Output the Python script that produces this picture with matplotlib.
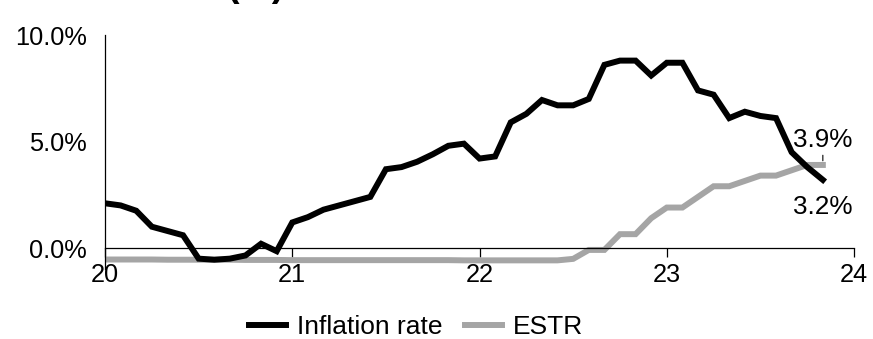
import matplotlib
matplotlib.use("Agg")
import matplotlib.pyplot as plt
from matplotlib.ticker import FuncFormatter
import numpy as np

plt.rcParams['font.family'] = ['Liberation Sans', 'DejaVu Sans']

# monthly series, Jan 2020 - Nov 2023
inflation = [
    2.1, 2.0, 1.75, 1.0, 0.8, 0.6, -0.5, -0.55, -0.5, -0.35, 0.2, -0.15,   # 2020
    1.2, 1.45, 1.8, 2.0, 2.2, 2.4, 3.7, 3.8, 4.05, 4.4, 4.8, 4.9,          # 2021
    4.2, 4.3, 5.9, 6.3, 6.95, 6.7, 6.7, 7.0, 8.6, 8.8, 8.8, 8.1,           # 2022
    8.7, 8.7, 7.4, 7.2, 6.1, 6.4, 6.2, 6.1, 4.5, 3.8, 3.2,                 # 2023
]
estr = [
    -0.54, -0.54, -0.54, -0.54, -0.55, -0.55, -0.55, -0.55, -0.55, -0.56, -0.56, -0.56,
    -0.57, -0.57, -0.57, -0.57, -0.57, -0.57, -0.57, -0.57, -0.57, -0.57, -0.57, -0.58,
    -0.58, -0.58, -0.58, -0.58, -0.58, -0.58, -0.51, -0.09, -0.09, 0.65, 0.65, 1.4,
    1.9, 1.9, 2.4, 2.9, 2.9, 3.15, 3.4, 3.4, 3.65, 3.9, 3.9,
]
start_year = 20
year_ticks = [20, 21, 22, 23, 24]

x = start_year + np.arange(len(inflation)) / 12

fig = plt.figure(figsize=(8.73, 3.39), dpi=100)
ax = fig.add_axes([0.1203, 0.2056, 0.858, 0.691])

ax.plot(x, estr, color="#A5A5A5", linewidth=4.3, solid_joinstyle="miter",
        label="ESTR", zorder=2)
ax.plot(x, inflation, color="black", linewidth=4.3, solid_joinstyle="miter",
        label="Inflation rate", zorder=3)

# ---------------- END LABELS ----------------
ax.annotate(f"{estr[-1]:.1f}%", xy=(x[-1], estr[-1]), xytext=(x[-1], 5.05),
            ha="center", va="center", fontsize=18.8,
            arrowprops=dict(arrowstyle="-", color="black", lw=0.8,
                            shrinkA=0, shrinkB=3))
ax.text(x[-1], 1.94, f"{inflation[-1]:.1f}%", ha="center", va="center",
        fontsize=18.8)

# ---------------- AXES ----------------
ax.set_xlim(20, 24)
ax.set_ylim(-1, 10)
ax.set_xticks(year_ticks)
ax.set_yticks([0, 5, 10])
ax.yaxis.set_major_formatter(FuncFormatter(lambda v, p: f"{v:.1f}%"))

ax.spines['top'].set_visible(False)
ax.spines['right'].set_visible(False)
ax.spines['bottom'].set_position(('data', 0))
ax.spines['bottom'].set_linewidth(0.9)
ax.spines['left'].set_linewidth(0.9)

ax.tick_params(axis='x', direction='out', length=6.5, width=0.9,
               labelsize=18.3, pad=4)
ax.tick_params(axis='y', length=0, labelsize=18.3, pad=13)

# ---------------- LEGEND ----------------
handles, labels = ax.get_legend_handles_labels()
fig.legend(handles[::-1], labels[::-1], loc="center",
           bbox_to_anchor=(416 / 873, 0.036), ncol=2, frameon=False,
           fontsize=19, handlelength=1.4, handletextpad=0.42,
           columnspacing=0.85, borderpad=0.2)

# heading sits mostly above the canvas
fig.text(0.293, 1.011, "(%)", ha="center", va="baseline",
         fontsize=27, fontweight="bold")

fig.savefig("out.png", dpi=100)
